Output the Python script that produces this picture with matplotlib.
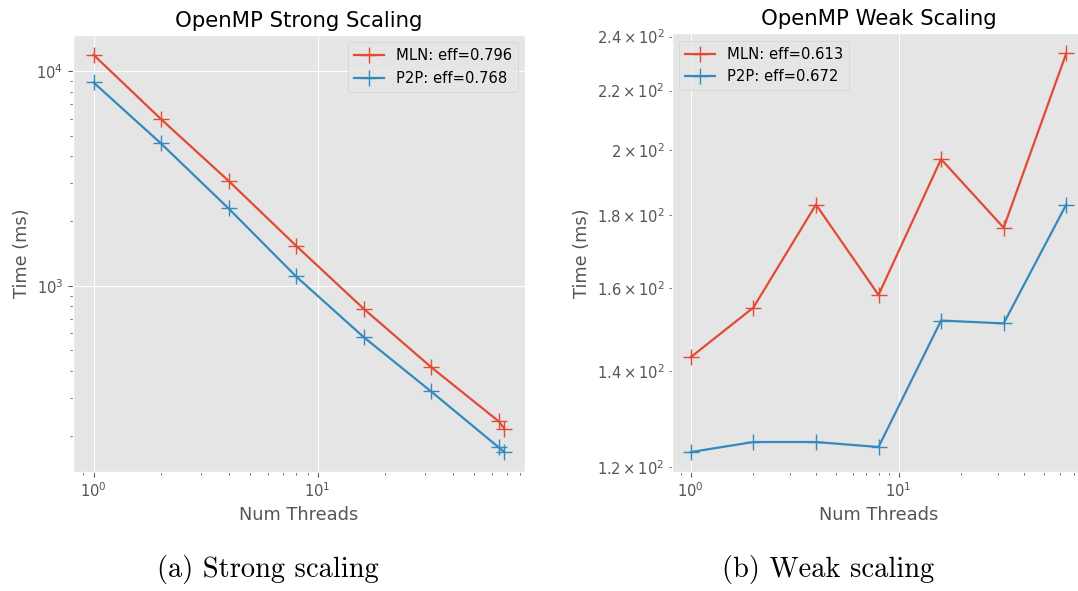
import matplotlib
matplotlib.use("Agg")
import matplotlib.pyplot as plt

# data
threads_strong = [1, 2, 4, 8, 16, 32, 64, 68]
mln_strong = [11870, 5960, 3077, 1535, 782, 418, 234, 216]
p2p_strong = [8830, 4590, 2289, 1105, 577, 322, 177, 168]

threads_weak = [1, 2, 4, 8, 16, 32, 64]
mln_weak = [143.2, 155.1, 183.1, 158.3, 197.0, 176.4, 233.6]
p2p_weak = [122.9, 124.9, 124.9, 123.9, 151.9, 151.2, 183.1]

labels_strong = ["MLN: eff=0.796", "P2P: eff=0.768"]
labels_weak = ["MLN: eff=0.613", "P2P: eff=0.672"]

plt.style.use("ggplot")
plt.rcParams["font.size"] = 10.65

fig = plt.figure(figsize=(10.78, 5.91), dpi=100)

ax1 = fig.add_axes([0.0677, 0.2014, 0.4193, 0.7394])
ax1.plot(threads_strong, mln_strong, marker="+", markersize=11, linewidth=1.6, label=labels_strong[0])
ax1.plot(threads_strong, p2p_strong, marker="+", markersize=11, linewidth=1.6, label=labels_strong[1])
ax1.set_xscale("log")
ax1.set_yscale("log")
ax1.set_title("OpenMP Strong Scaling")
ax1.set_xlabel("Num Threads")
ax1.set_ylabel("Time (ms)")
ax1.legend(loc="upper right")

ax2 = fig.add_axes([0.6234, 0.2014, 0.3831, 0.7420])
ax2.plot(threads_weak, mln_weak, marker="+", markersize=11, linewidth=1.6, label=labels_weak[0])
ax2.plot(threads_weak, p2p_weak, marker="+", markersize=11, linewidth=1.6, label=labels_weak[1])
ax2.set_xscale("log")
ax2.set_yscale("log")
ax2.set_title("OpenMP Weak Scaling")
ax2.set_xlabel("Num Threads")
ax2.set_ylabel("Time (ms)")
ax2.legend(loc="upper left")

fig.text(267.5 / 1078, 1 - 577 / 591, "(a) Strong scaling", family="cmr10",
         fontsize=20.5, ha="center", va="baseline")
fig.text(828.5 / 1078, 1 - 577 / 591, "(b) Weak scaling", family="cmr10",
         fontsize=20.5, ha="center", va="baseline")

fig.savefig("out.png", dpi=100)
